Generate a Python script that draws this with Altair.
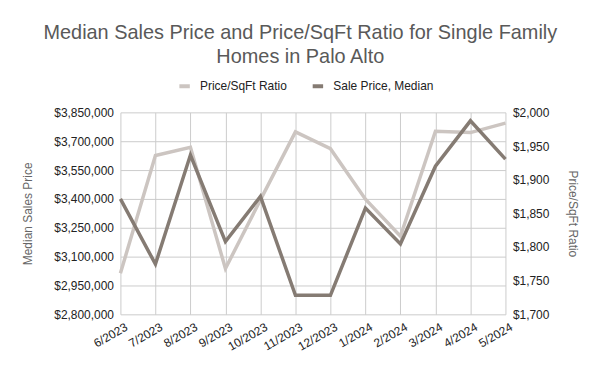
import altair as alt
import pandas as pd

months = ["6/2023", "7/2023", "8/2023", "9/2023", "10/2023", "11/2023",
          "12/2023", "1/2024", "2/2024", "3/2024", "4/2024", "5/2024"]
sale_price = [3400000, 3061000, 3628000, 3178000, 3413000, 2899000,
              2899000, 3352000, 3166000, 3570000, 3806000, 3607000]
price_sqft = [1761, 1936, 1948, 1768, 1870, 1971,
              1946, 1871, 1816, 1972, 1970, 1984]
series_names = ["Price/SqFt Ratio", "Sale Price, Median"]
series_colors = ["#ccc5c1", "#857b73"]
left_ticks = [2800000, 2950000, 3100000, 3250000, 3400000, 3550000, 3700000, 3850000]
right_ticks = [1700, 1750, 1800, 1850, 1900, 1950, 2000]

rows = []
for m, s, r in zip(months, sale_price, price_sqft):
    rows.append({"month": m, "series": series_names[0], "value": r})
    rows.append({"month": m, "series": series_names[1], "value": s})
df = pd.DataFrame(rows)

FONT = "Liberation Sans, Arial, sans-serif"

x_enc = alt.X("month:O", sort=months, scale=alt.Scale(padding=0),
              axis=alt.Axis(title=None, labelAngle=-30, grid=True, ticks=False,
                            domain=False, labelPadding=7, labelOffset=3,
                            labelFontSize=12, labelColor="#222222",
                            gridColor="#cccccc"))

color_enc = alt.Color("series:N",
                      scale=alt.Scale(domain=series_names, range=series_colors),
                      legend=alt.Legend(title=None, orient="none", legendX=57, legendY=-34,
                                        direction="horizontal", symbolType="stroke",
                                        symbolStrokeWidth=4, symbolSize=110,
                                        labelFontSize=12, labelColor="#222222",
                                        labelOffset=8, columnPadding=17, padding=0))

ratio_line = alt.Chart(df).transform_filter(
    alt.datum.series == series_names[0]
).mark_line(strokeWidth=3.5).encode(
    x=x_enc,
    y=alt.Y("value:Q",
            scale=alt.Scale(domain=[1700, 2000], nice=False, zero=False),
            axis=alt.Axis(orient="right", values=right_ticks, format="$,.0f",
                          title="Price/SqFt Ratio", grid=False, ticks=False,
                          domain=False, labelPadding=7, titlePadding=17,
                          labelFontSize=12, labelColor="#222222",
                          titleFontSize=12, titleFontWeight="normal",
                          titleColor="#666666")),
    color=color_enc,
)

sale_line = alt.Chart(df).transform_filter(
    alt.datum.series == series_names[1]
).mark_line(strokeWidth=3.5).encode(
    x=x_enc,
    y=alt.Y("value:Q",
            scale=alt.Scale(domain=[2800000, 3850000], nice=False, zero=False),
            axis=alt.Axis(orient="left", values=left_ticks, format="$,.0f",
                          title="Median Sales Price", grid=True, gridColor="#cccccc",
                          ticks=False, domain=False, labelPadding=7, titlePadding=19,
                          labelFontSize=12, labelColor="#222222",
                          titleFontSize=12, titleFontWeight="normal",
                          titleColor="#666666")),
    color=color_enc,
)

chart = alt.layer(ratio_line, sale_line).resolve_scale(
    y="independent"
).properties(
    width=387,
    height=203,
    padding={"left": 13, "right": 13, "top": 14, "bottom": 5},
    title=alt.Title(["Median Sales Price and Price/SqFt Ratio for Single Family",
                     "Homes in Palo Alto"],
                    fontSize=20, fontWeight="normal", color="#595959", font=FONT,
                    anchor="middle", frame="bounds", lineHeight=24, offset=12),
).configure(
    font=FONT
).configure_view(
    stroke=None
)

chart.save("out.html", embed_options={"renderer": "svg", "actions": False})
